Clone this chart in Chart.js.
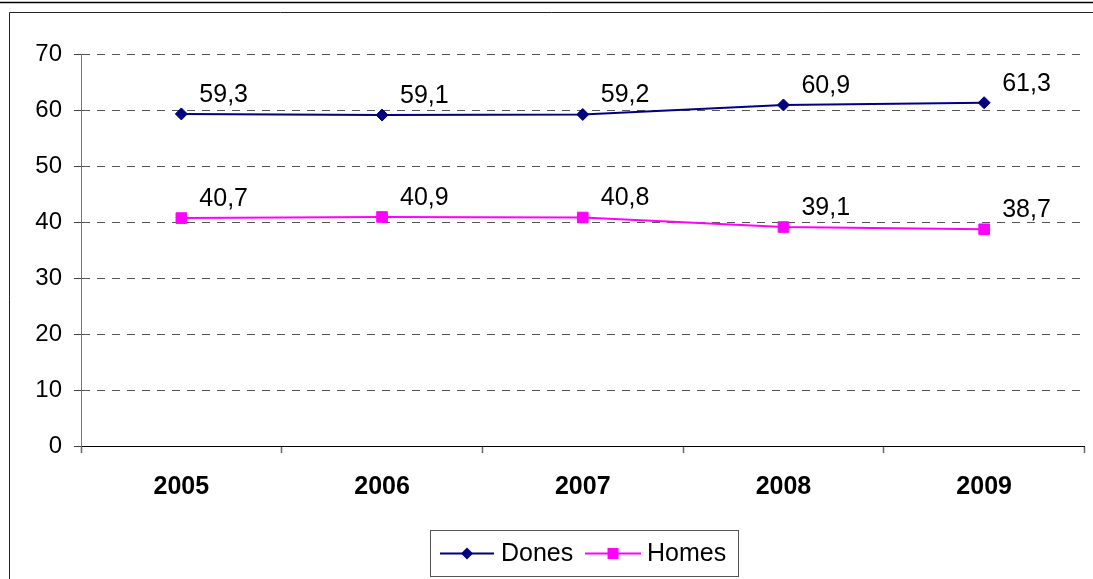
<!DOCTYPE html>
<html>
<head>
<meta charset="utf-8">
<script src="https://cdn.jsdelivr.net/npm/chart.js@4"></script>
<style>
  html, body { margin: 0; padding: 0; background: #fff; }
  #c { display: block; }
</style>
</head>
<body>
<canvas id="c" width="1093" height="579"></canvas>
<script>
const categories = ['2005', '2006', '2007', '2008', '2009'];
const donesValues = [59.3, 59.1, 59.2, 60.9, 61.3];
const homesValues = [40.7, 40.9, 40.8, 39.1, 38.7];
const seriesNames = ['Dones', 'Homes'];
const yTicks = [0, 10, 20, 30, 40, 50, 60, 70];

const FONT = "'Liberation Sans', Arial, sans-serif";

const fmt = v => v.toFixed(1).replace('.', ',');

const frameAndLabels = {
  id: 'frameAndLabels',
  beforeDraw(chart) {
    const ctx = chart.ctx;
    ctx.save();
    ctx.fillStyle = '#fff';
    ctx.fillRect(0, 0, chart.width, chart.height);
    ctx.strokeStyle = '#000';
    ctx.lineWidth = 1.5;
    ctx.beginPath();
    ctx.moveTo(0, 2.5); ctx.lineTo(chart.width, 2.5);
    ctx.stroke();
    ctx.strokeStyle = '#222';
    ctx.lineWidth = 1;
    ctx.beginPath();
    ctx.moveTo(9.5, chart.height + 5);
    ctx.lineTo(9.5, 12.5);
    ctx.lineTo(chart.width + 5, 12.5);
    ctx.stroke();
    ctx.restore();
  },
  afterDatasetsDraw(chart) {
    const ctx = chart.ctx;
    ctx.save();
    ctx.font = '25px ' + FONT;
    ctx.fillStyle = '#000';
    ctx.textAlign = 'left';
    ctx.textBaseline = 'middle';
    chart.data.datasets.forEach((ds, i) => {
      const meta = chart.getDatasetMeta(i);
      meta.data.forEach((pt, j) => {
        ctx.fillText(fmt(ds.data[j]), pt.x + 18, pt.y - 19);
      });
    });
    ctx.restore();
  },
  afterDraw(chart) {
    const ctx = chart.ctx;
    ctx.save();
    const bx = 430.5, by = 530.5, bw = 308, bh = 46;
    ctx.strokeStyle = '#555';
    ctx.lineWidth = 1;
    ctx.strokeRect(bx, by, bw, bh);
    const cy = by + bh / 2;
    ctx.font = '25px ' + FONT;
    ctx.textBaseline = 'middle';
    ctx.textAlign = 'left';
    const items = [
      { x0: 440, x1: 494, tx: 501 },
      { x0: 585, x1: 641, tx: 647 }
    ];
    chart.data.datasets.forEach((ds, i) => {
      const it = items[i];
      ctx.strokeStyle = ds.borderColor;
      ctx.lineWidth = 2;
      ctx.beginPath();
      ctx.moveTo(it.x0, cy); ctx.lineTo(it.x1, cy);
      ctx.stroke();
      const mx = (it.x0 + it.x1) / 2;
      ctx.fillStyle = ds.pointBackgroundColor;
      ctx.beginPath();
      if (ds.pointStyle === 'rectRot') {
        ctx.moveTo(mx, cy - 6); ctx.lineTo(mx + 6, cy); ctx.lineTo(mx, cy + 6); ctx.lineTo(mx - 6, cy);
        ctx.closePath();
      } else {
        ctx.rect(mx - 5.5, cy - 5.5, 11, 11);
      }
      ctx.fill();
      ctx.fillStyle = '#000';
      ctx.fillText(ds.label, it.tx, cy + 1);
    });
    ctx.restore();
  }
};

new Chart(document.getElementById('c'), {
  type: 'line',
  data: {
    labels: categories,
    datasets: [
      {
        label: seriesNames[0],
        data: donesValues,
        borderColor: '#000080',
        backgroundColor: '#000080',
        pointBackgroundColor: '#000080',
        pointBorderColor: '#000080',
        pointStyle: 'rectRot',
        pointRadius: 6,
        pointBorderWidth: 1,
        borderWidth: 2,
        tension: 0
      },
      {
        label: seriesNames[1],
        data: homesValues,
        borderColor: '#FF00FF',
        backgroundColor: '#FF00FF',
        pointBackgroundColor: '#FF00FF',
        pointBorderColor: '#FF00FF',
        pointStyle: 'rect',
        pointRadius: 7.5,
        pointBorderWidth: 1,
        borderWidth: 2,
        tension: 0
      }
    ]
  },
  options: {
    responsive: false,
    devicePixelRatio: 1,
    animation: false,
    layout: { padding: { top: 54, right: 5, left: 0, bottom: 0 } },
    plugins: {
      legend: { display: false },
      tooltip: { enabled: false },
      title: { display: false }
    },
    scales: {
      x: {
        type: 'category',
        offset: true,
        grid: {
          offset: true,
          drawOnChartArea: false,
          drawTicks: true,
          tickLength: 7,
          tickColor: '#666',
          tickWidth: 1.5
        },
        border: { display: true, color: '#000', width: 1 },
        ticks: {
          color: '#000',
          font: { family: FONT, size: 25, weight: 'bold' },
          padding: 19,
          maxRotation: 0,
          autoSkip: false
        },
        afterFit(s) { s.height = 133; }
      },
      y: {
        min: 0,
        max: 70,
        afterBuildTicks(s) { s.ticks = yTicks.map(v => ({ value: v })); },
        grid: {
          color: ctx => (ctx.tick && ctx.tick.value === 0) ? 'rgba(0,0,0,0)' : '#555',
          lineWidth: 1,
          tickLength: 7,
          tickColor: '#444',
          tickWidth: 1
        },
        border: { display: true, color: '#777', width: 1, dash: [8, 7] },
        ticks: {
          color: '#000',
          font: { family: FONT, size: 24 },
          padding: 12
        },
        afterFit(s) { s.width = 81; }
      }
    }
  },
  plugins: [frameAndLabels]
});
</script>
</body>
</html>
